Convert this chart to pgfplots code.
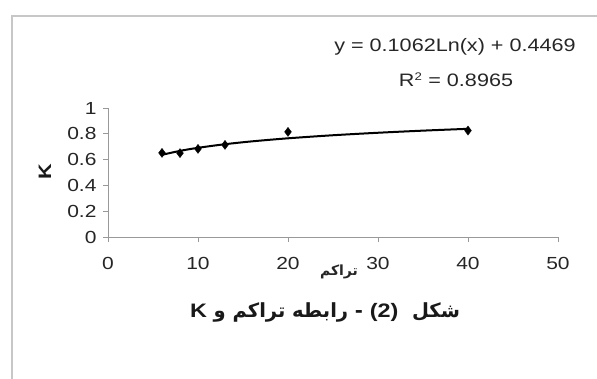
\documentclass[border=0pt]{standalone}
\usepackage{fontspec}
\setmainfont{Liberation Sans}[FakeStretch=1.2]
\newfontfamily\arabicfont[Script=Arabic]{DejaVu Sans}
\TeXXeTstate=1
\usepackage{pgfplots}
\pgfplotsset{compat=1.18}
\newcommand\lat[1]{\beginL{\normalfont\bfseries #1}\endL}
\begin{document}
\begin{tikzpicture}
\useasboundingbox (0,0) rectangle (597pt,378pt);
\draw[black!22, line width=1.6pt] (12pt,-5pt) -- (12pt,362pt) -- (610pt,362pt);
\begin{axis}[
  at={(108pt,141pt)}, anchor=south west,
  scale only axis, width=450pt, height=129pt,
  xmin=0, xmax=50, ymin=0, ymax=1,
  axis x line*=bottom, axis y line*=left,
  axis line style={black!40, line width=0.9pt},
  xtick={0,10,...,50}, ytick={0,0.2,0.4,0.6,0.8,1},
  tick align=outside, major tick length=5pt,
  tick style={black!40, line width=0.9pt},
  /pgf/number format/assume math mode=true,
  ticklabel style={font=\fontsize{17.5}{20}\selectfont, text=black!85},
  xticklabel shift=12pt, yticklabel shift=3pt,
  clip=false,
]
\addplot[black, line width=2pt, smooth] coordinates {
  (6,0.6372) (8,0.6677) (10,0.6914) (13,0.7193) (16,0.7414) (20,0.7651)
  (25,0.7888) (30,0.8081) (35,0.8245) (40,0.8387)};
\addplot[only marks, mark=diamond*, mark size=4.5pt, black] coordinates {
  (6,0.652) (8,0.650) (10,0.683) (13,0.714) (20,0.815) (40,0.825)};
\end{axis}
\node[rotate=90, font=\bfseries\fontsize{18}{20}\selectfont, text=black!90] at (45pt,206pt) {K};
\node[font=\fontsize{14}{18}\selectfont\arabicfont\bfseries, text=black!85] at (339pt,106pt) {\beginR تراکم\endR};
\node[font=\fontsize{18}{21}\selectfont, text=black!85] at (455pt,331pt) {y = 0.1062Ln(x) + 0.4469};
\node[font=\fontsize{18}{21}\selectfont, text=black!85] at (456pt,298pt) {R\textsuperscript{\fontsize{11}{12}\selectfont 2} = 0.8965};
\node[font=\fontsize{19.5}{22}\selectfont\arabicfont\bfseries, text=black!90] at (325pt,66pt)
  {\beginR شکل\ \ \lat{(2)}\ - رابطه تراکم و \lat{K}\endR};
\end{tikzpicture}
\end{document}
